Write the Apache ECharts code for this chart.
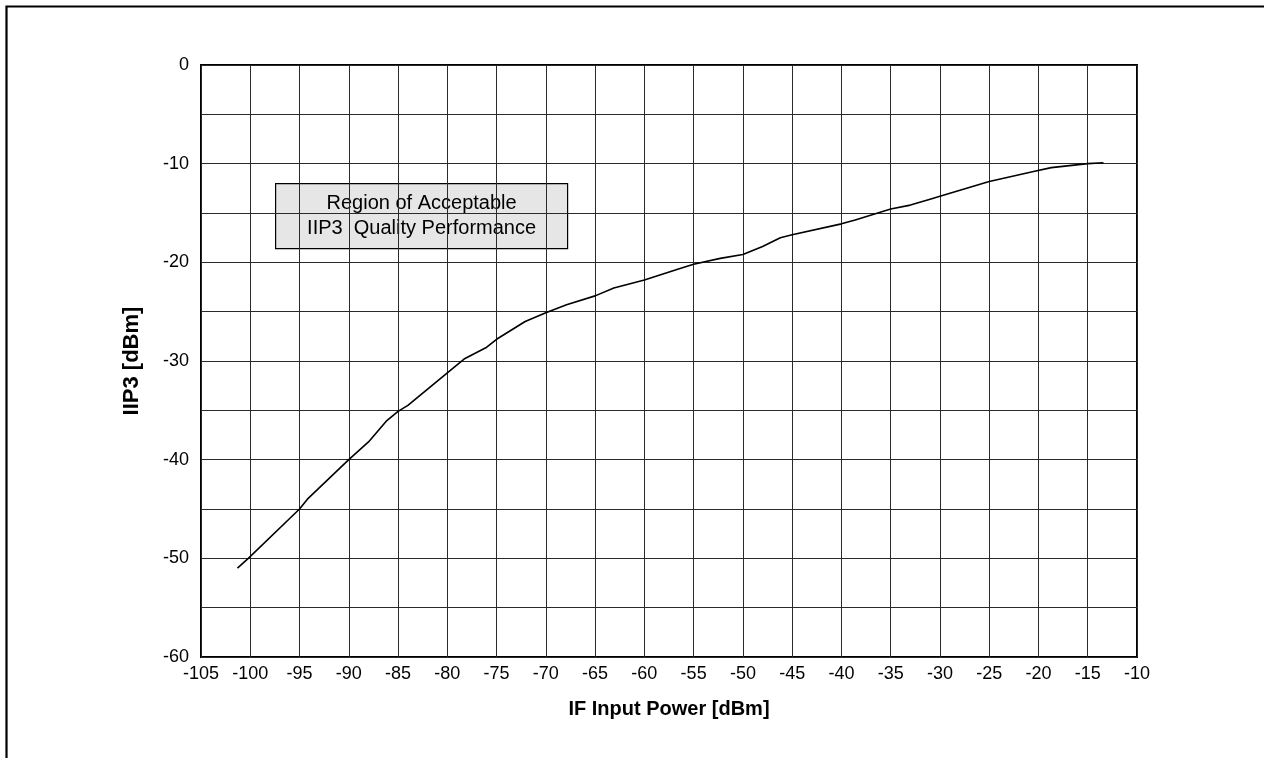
<!DOCTYPE html>
<html>
<head>
<meta charset="utf-8">
<script src="https://cdn.jsdelivr.net/npm/echarts@6/dist/echarts.min.js"></script>
<style>
html,body{margin:0;padding:0;background:#fff;}
#chart{width:1264px;height:758px;}
</style>
</head>
<body>
<div id="chart"></div>
<script>
// IF input power [dBm]
var ifPower = [-101.3, -100.2, -95.0, -94.2, -90.0, -88.0, -86.2, -85.0, -84.0, -80.0, -78.3, -76.0, -75.0, -72.1, -70.0, -67.9, -65.0, -63.1, -60.0, -56.3, -55.0, -52.3, -50.0, -48.0, -46.2, -45.0, -40.0, -38.6, -35.0, -33.0, -31.0, -30.0, -25.0, -20.5, -18.7, -15.0, -13.4];
// IIP3 [dBm]
var iip3 = [-51.0, -50.0, -45.0, -44.0, -40.0, -38.2, -36.1, -35.1, -34.5, -31.2, -29.8, -28.6, -27.8, -26.0, -25.1, -24.3, -23.4, -22.6, -21.8, -20.6, -20.2, -19.6, -19.2, -18.4, -17.5, -17.2, -16.1, -15.7, -14.6, -14.2, -13.6, -13.3, -11.8, -10.8, -10.4, -10.0, -9.9];
var xTicks = {min: -105, max: -10, step: 5};
var yTicks = {min: -60, max: 0, step: 5, labelStep: 10};
var xName = 'IF Input Power [dBm]';
var yName = 'IIP3 [dBm]';
var noteLines = ['Region of Acceptable', 'IIP3  Quality Performance'];

var pts = ifPower.map(function (x, i) { return [x, iip3[i]]; });
var font = '"Liberation Sans", Arial, sans-serif';
var gridLine = {show: true, lineStyle: {color: '#2a2a2a', width: 1}};

var chart = echarts.init(document.getElementById('chart'), null, {renderer: 'canvas'});
chart.setOption({
  animation: false,
  backgroundColor: '#fff',
  grid: {left: 201, top: 65, right: 127, bottom: 101, show: true, borderColor: '#000', borderWidth: 2, backgroundColor: 'transparent'},
  xAxis: {
    type: 'value', min: xTicks.min, max: xTicks.max, interval: xTicks.step,
    name: xName, nameLocation: 'middle', nameGap: 42,
    nameTextStyle: {fontFamily: font, fontWeight: 'bold', fontSize: 20, color: '#000'},
    axisLine: {show: false}, axisTick: {show: false},
    axisLabel: {fontFamily: font, fontSize: 18, color: '#000', margin: 8},
    splitLine: gridLine
  },
  yAxis: {
    type: 'value', min: yTicks.min, max: yTicks.max, interval: yTicks.step,
    name: yName, nameLocation: 'middle', nameGap: 58, nameRotate: 90,
    nameTextStyle: {fontFamily: font, fontWeight: 'bold', fontSize: 22, color: '#000'},
    axisLine: {show: false}, axisTick: {show: false},
    axisLabel: {fontFamily: font, fontSize: 18, color: '#000', margin: 12,
      formatter: function (v) { return (Math.round(v) % yTicks.labelStep === 0) ? String(v) : ''; }},
    splitLine: gridLine
  },
  series: [{
    type: 'line', data: pts, showSymbol: false, smooth: false,
    lineStyle: {color: '#000', width: 1.6}
  }],
  graphic: [
    {type: 'rect', left: 4, top: 4, shape: {x: 0, y: 0, width: 1400, height: 900},
     style: {fill: 'none', stroke: '#000', lineWidth: 2.2}, silent: true},
    {type: 'group', left: 275, top: 183, children: [
      {type: 'rect', shape: {x: 0, y: 0, width: 292, height: 65},
       style: {fill: '#e6e6e6', stroke: '#000', lineWidth: 1.2}},
      {type: 'text', x: 146, y: 32.5,
       style: {text: noteLines.join('\n'), fontFamily: font, fontSize: 20, fill: '#000',
               align: 'center', verticalAlign: 'middle', lineHeight: 25}}
    ]}
  ]
});
</script>
</body>
</html>
